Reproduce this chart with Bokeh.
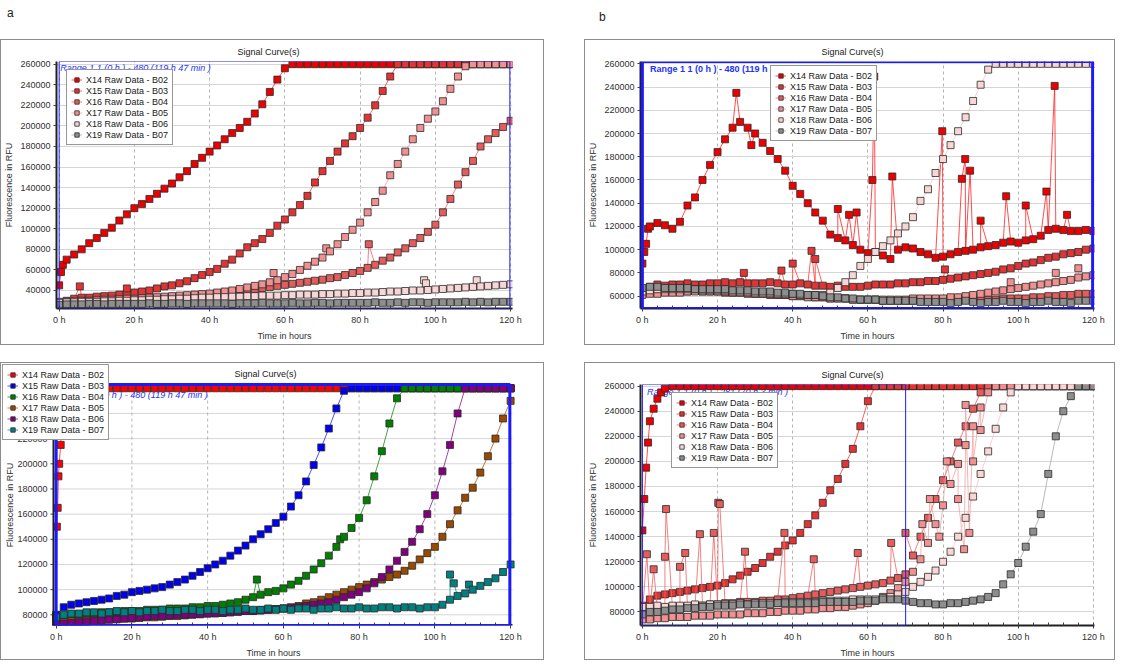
import math
from bokeh.plotting import figure
from bokeh.models import (FixedTicker, NumeralTickFormatter, Legend, LegendItem,
                          BoxAnnotation, Label, Div, Spacer)
from bokeh.core.properties import value
from bokeh.layouts import column, row
from bokeh.embed import file_html
from bokeh.resources import INLINE

# ---------------- data ----------------
T = list(range(0, 121, 2))          # sampling times in hours
NAMES = ["X14 Raw Data - B02", "X15 Raw Data - B03", "X16 Raw Data - B04",
         "X17 Raw Data - B05", "X18 Raw Data - B06", "X19 Raw Data - B07"]
X_TICKS = [0, 20, 40, 60, 80, 100, 120]
X_LABELS = ["0 h", "20 h", "40 h", "60 h", "80 h", "100 h", "120 h"]
SAT = 260000

# panel a, top
A_TOP_X14 = [45000, 70000, 75000, 80000, 86000, 91000, 96000, 101000, 108000, 114000,
             120000, 124000, 129000, 134000, 139000, 144000, 150000, 156000, 163000, 169000,
             175000, 181000, 187000, 193000, 198000, 204000, 212000, 221000, 233000, 245000,
             256000] + [SAT] * 30
A_TOP_X15 = [28000, 30000, 32000, 33000, 33000, 34000, 34500, 35000, 36000, 37000,
             38000, 39000, 40000, 42000, 44000, 45000, 47000, 49000, 52000, 55000,
             58000, 61000, 66000, 70000, 76000, 82000, 86000, 90000, 96000, 103000,
             109000, 116000, 123000, 132000, 145000, 156000, 166000, 175000, 183000, 190000,
             198000, 208000, 220000, 234000, 248000] + [SAT] * 16
A_TOP_X16 = [27000, 27500, 28000, 28000, 28500, 29000, 29000, 29500, 30000, 30000,
             30500, 31000, 31500, 32000, 32000, 33000, 33500, 34000, 34500, 35000,
             36000, 37000, 37500, 38500, 39500, 40000, 41500, 42500, 43500, 44500,
             45500, 46500, 47500, 48500, 49500, 50500, 52000, 53000, 55000, 57000,
             59000, 62000, 65000, 69000, 72000, 77000, 81000, 86000, 91000, 97000,
             104000, 116000, 129000, 143000, 155000, 166000, 180000, 187000, 193000, 199000,
             205000]
A_TOP_X17 = [29000, 29000, 29500, 30000, 30000, 30500, 31000, 31000, 31500, 32000,
             32000, 32500, 33000, 33500, 34000, 34500, 35000, 35500, 36000, 36500,
             37000, 38000, 39000, 40000, 41500, 43000, 44500, 46000, 48000, 50000,
             53000, 56000, 60000, 64000, 68000, 72000, 78000, 85000, 92000, 99000,
             106000, 116000, 126000, 137000, 152000, 163000, 175000, 187000, 198000, 207000,
             214000, 224000, 236000, 248000, 258000] + [SAT] * 6
A_TOP_X18 = [28000, 28500, 28500, 29000, 29000, 29000, 29500, 29500, 30000, 30000,
             30500, 30500, 31000, 31000, 31500, 31500, 32000, 32000, 32500, 33000,
             33000, 33500, 33500, 34000, 34000, 34500, 34500, 35000, 35000, 35000,
             35500, 35500, 36000, 36000, 36000, 36500, 36500, 37000, 37000, 37500,
             37500, 38000, 38000, 38500, 39000, 39000, 39500, 40000, 40000, 40500,
             41000, 41500, 42000, 42500, 43000, 43500, 44000, 44500, 45000, 45500,
             46000]
A_TOP_X19 = [26000, 26500, 26500, 26500, 27000, 27000, 26500, 27000, 27000, 27000,
             27000, 27000, 27500, 27000, 27000, 27500, 27500, 27000, 27500, 27500,
             27500, 27500, 27500, 27000, 27500, 27500, 27500, 28000, 27500, 27500,
             27500, 28000, 27500, 27500, 28000, 28000, 27500, 28000, 28000, 28000,
             28000, 28000, 28500, 28000, 28000, 28500, 28000, 28500, 28500, 28000,
             28500, 28500, 28500, 28500, 29000, 28500, 29000, 28500, 29000, 29000,
             29000]
A_TOP_EXTRA = {
    0: [(0.5, 58000), (1.0, 65000)],
    1: [(5.5, 44000), (18.0, 42000)],
    2: [(82.3, 85000)],
    3: [(57.0, 57000), (71.0, 81000)],
    4: [(97.0, 50000), (97.5, 47000), (111.0, 50000)],
    5: [],
}

# panel a, bottom
A_BOT_X14 = [78000] + [SAT] * 60
A_BOT_X15 = [80000, 86000, 88000, 89000, 90000, 91000, 92000, 93000, 95000, 96000,
             98000, 99000, 100000, 101000, 102000, 104000, 106000, 108000, 111000, 114000,
             117000, 120000, 123000, 127000, 131000, 135000, 140000, 144000, 148000, 153000,
             158000, 166000, 175000, 186000, 199000, 213000, 228000, 244000, 258000] + [SAT] * 22
A_BOT_X16 = [78000, 79000, 80000, 80000, 81000, 81000, 82000, 82000, 82000, 83000,
             83000, 83000, 84000, 84000, 84000, 85000, 85000, 85000, 86000, 86000,
             87000, 87000, 88000, 89000, 90000, 92000, 94000, 96000, 98000, 99000,
             101000, 104000, 107000, 111000, 116000, 121000, 127000, 134000, 142000, 149000,
             157000, 171000, 190000, 210000, 232000, 252000] + [SAT] * 15
A_BOT_X17 = [74000, 74500, 75000, 75000, 75500, 76000, 76000, 76500, 76500, 77000,
             77000, 77500, 78000, 78000, 78500, 79000, 79000, 79500, 80000, 80500,
             81000, 81000, 81500, 82000, 82500, 83000, 83000, 83500, 84000, 84500,
             85000, 86000, 87000, 89000, 90000, 92000, 94000, 96000, 98000, 100000,
             102000, 104000, 106000, 108000, 110000, 112000, 115000, 119000, 124000, 129000,
             134000, 142000, 152000, 163000, 173000, 181000, 193000, 206000, 220000, 236000,
             250000]
A_BOT_X18 = [72000, 73000, 73500, 74000, 74500, 75000, 75500, 76000, 76500, 77000,
             77500, 78000, 78500, 79000, 79000, 79500, 80000, 80000, 80500, 80500,
             81000, 81500, 81500, 82000, 82500, 83000, 83000, 83500, 84000, 84500,
             85000, 85500, 86000, 87000, 88000, 89000, 90000, 92000, 94000, 96000,
             98000, 101000, 105000, 110000, 116000, 123000, 130000, 138000, 148000, 160000,
             175000, 194000, 215000, 240000] + [SAT] * 7
A_BOT_X19 = [78000, 80000, 81000, 81000, 82000, 82000, 81000, 82000, 83000, 82000,
             83000, 82000, 83000, 83000, 84000, 83000, 83000, 84000, 84000, 83000,
             84000, 84000, 83000, 84000, 84000, 85000, 84000, 84000, 85000, 84000,
             85000, 84000, 85000, 85000, 84000, 85000, 85000, 86000, 85000, 85000,
             86000, 85000, 85000, 86000, 86000, 85000, 86000, 86000, 85000, 86000,
             86000, 88000, 92000, 95000, 97000, 100000, 103000, 106000, 109000, 114000,
             120000]
A_BOT_EXTRA = {
    0: [(0.2, 150000), (0.4, 165000), (0.6, 190000), (0.8, 200000), (1.2, 215000)],
    1: [],
    2: [(53.0, 108000), (75.0, 140000)],
    3: [],
    4: [],
    5: [(104.0, 112000), (105.0, 105000), (109.0, 104000)],
}

# panel b, top
B_TOP_X14 = [88000, 120000, 123000, 121000, 118000, 124000, 138000, 145000, 160000, 173000,
             184000, 195000, 205000, 210000, 205000, 200000, 192000, 185000, 178000, 168000,
             155000, 148000, 140000, 132000, 125000, 113000, 110000, 108000, 104000, 100000,
             97000, 98000, 95000, 92000, 100000, 102000, 101000, 98000, 96000, 93000,
             94000, 96000, 98000, 99000, 100000, 102000, 103000, 104000, 106000, 107000,
             106000, 108000, 109000, 112000, 117000, 118000, 117000, 116000, 116000, 117000,
             116000]
B_TOP_X15 = [66000, 68000, 70000, 69000, 70000, 70000, 71000, 70000, 70000, 71000,
             71000, 72000, 71000, 72000, 71000, 71000, 71000, 72000, 71000, 70000,
             70000, 71000, 70000, 69000, 69000, 68000, 69000, 68000, 68000, 68000,
             69000, 70000, 70000, 70000, 71000, 71000, 72000, 72000, 73000, 73000,
             74000, 75000, 76000, 77000, 78000, 79000, 80000, 81000, 83000, 84000,
             86000, 88000, 89000, 91000, 93000, 94000, 96000, 97000, 98000, 100000,
             101000]
B_TOP_X16 = [63000, 64000, 65000, 64000, 65000, 65000, 64000, 65000, 64000, 64000,
             64000, 63000, 63000, 63000, 62000, 62000, 62000, 61000, 61000, 61000,
             60000, 60000, 60000, 59000, 59000, 58000, 58000, 58000, 57000, 57000,
             57000, 57000, 56000, 56000, 56000, 56000, 56000, 56000, 56000, 56000,
             56000, 56000, 56000, 57000, 57000, 57000, 57000, 57000, 58000, 58000,
             58000, 58000, 59000, 59000, 60000, 60000, 61000, 61000, 62000, 62000,
             62000]
B_TOP_X17 = [61000, 62000, 62000, 63000, 63000, 63000, 64000, 64000, 64000, 64000,
             64000, 64000, 63000, 63000, 63000, 62000, 62000, 62000, 61000, 61000,
             60000, 60000, 59000, 59000, 59000, 58000, 58000, 58000, 57000, 57000,
             57000, 57000, 57000, 57000, 57000, 57000, 58000, 58000, 58000, 58000,
             58000, 59000, 59000, 60000, 61000, 62000, 63000, 64000, 65000, 66000,
             67000, 68000, 69000, 70000, 71000, 72000, 73000, 74000, 76000, 77000,
             78000]
B_TOP_X18 = [64000, 65000, 66000, 66000, 66000, 66000, 66000, 66000, 65000, 65000,
             65000, 65000, 64000, 64000, 64000, 63000, 63000, 63000, 62000, 62000,
             62000, 61000, 61000, 61000, 61000, 63000, 67000, 72000, 78000, 86000,
             92000, 98000, 103000, 108000, 114000, 120000, 128000, 142000, 152000, 166000,
             178000, 190000, 202000, 214000, 228000, 242000, 255000] + [SAT] * 14
B_TOP_X19 = [67000, 68000, 68000, 67000, 67000, 67000, 67000, 66000, 66000, 66000,
             66000, 66000, 65000, 65000, 65000, 64000, 64000, 64000, 63000, 63000,
             62000, 62000, 61000, 61000, 60000, 59000, 59000, 58000, 58000, 57000,
             57000, 57000, 56000, 56000, 56000, 56000, 56000, 55000, 55000, 55000,
             55000, 54000, 55000, 56000, 55000, 54000, 55000, 55000, 56000, 55000,
             55000, 54000, 55000, 55000, 56000, 55000, 55000, 54000, 56000, 56000,
             56000]
B_TOP_EXTRA = {
    0: [(0.5, 98000), (1.0, 105000), (1.5, 118000), (25.0, 235000), (29.0, 190000),
        (52.0, 135000), (55.0, 130000), (57.0, 132000), (61.2, 160000), (61.7, 249000),
        (66.5, 163000), (79.8, 202000), (85.0, 161000), (85.9, 178000), (87.2, 168000),
        (90.0, 125000), (96.8, 146000), (102.0, 138000), (107.5, 150000), (109.7, 241000),
        (113.0, 130000)],
    1: [(27.0, 80000), (37.0, 82000), (40.0, 88000), (45.0, 99000), (46.0, 92000),
        (80.5, 83000)],
    2: [],
    3: [(98.0, 72000), (110.0, 80000), (116.0, 84000)],
    4: [],
    5: [],
}

# panel b, bottom
B_BOT_X14 = [145000, 232000, 250000, 258000] + [SAT] * 57
B_BOT_X15 = [85000, 90000, 93000, 94000, 95000, 96000, 97000, 98000, 99000, 100000,
             101000, 103000, 106000, 109000, 112000, 115000, 119000, 124000, 128000, 133000,
             137000, 143000, 150000, 157000, 167000, 177000, 186000, 198000, 210000, 228000,
             248000] + [SAT] * 30
B_BOT_X16 = [80000, 82000, 82000, 83000, 83000, 84000, 84000, 85000, 85000, 86000,
             86000, 87000, 87000, 88000, 88000, 88000, 89000, 89000, 90000, 90000,
             91000, 92000, 93000, 94000, 95000, 96000, 97000, 98000, 99000, 100000,
             101000, 102000, 103000, 105000, 107000, 110000, 125000, 140000, 155000, 170000,
             185000, 200000, 215000, 228000, 242000, 255000] + [SAT] * 15
B_BOT_X17 = [74000, 74000, 75000, 75000, 76000, 76000, 76000, 77000, 77000, 77000,
             78000, 78000, 78000, 78000, 79000, 79000, 79000, 80000, 80000, 81000,
             81000, 81000, 82000, 82000, 83000, 83000, 84000, 84000, 85000, 86000,
             87000, 89000, 92000, 95000, 99000, 104000, 112000, 122000, 135000, 150000,
             165000, 182000, 198000, 213000, 228000, 243000, 255000] + [SAT] * 14
B_BOT_X18 = [84000, 84000, 85000, 84000, 85000, 85000, 85000, 86000, 85000, 86000,
             86000, 86000, 86000, 87000, 86000, 87000, 87000, 87000, 87000, 88000,
             88000, 88000, 88000, 88000, 89000, 89000, 89000, 89000, 90000, 90000,
             90000, 90000, 91000, 92000, 94000, 96000, 100000, 104000, 108000, 113000,
             120000, 128000, 140000, 155000, 172000, 190000, 208000, 226000, 243000, 255000] + [SAT] * 11
B_BOT_X19 = [78000, 80000, 80000, 81000, 82000, 82000, 83000, 83000, 84000, 84000,
             85000, 85000, 85000, 86000, 86000, 86000, 86000, 86000, 87000, 87000,
             87000, 87000, 87000, 87000, 88000, 88000, 88000, 88000, 88000, 89000,
             89000, 89000, 90000, 90000, 90000, 89000, 88000, 87000, 87000, 86000,
             86000, 87000, 87000, 88000, 89000, 90000, 92000, 95000, 102000, 110000,
             119000, 132000, 144000, 158000, 190000, 220000, 240000, 252000, 260000, 260000,
             260000]
B_BOT_EXTRA = {
    0: [(0.5, 170000), (1.0, 195000), (1.5, 215000), (3.0, 242000), (5.0, 255000)],
    1: [],
    2: [(1.2, 126000), (3.0, 114000), (6.0, 124000), (6.3, 162000), (10.0, 116000),
        (11.4, 127000), (15.3, 142000), (19.0, 143000), (20.2, 167000), (20.6, 166000),
        (27.3, 128000), (37.8, 143000), (45.6, 122000), (57.3, 127000), (66.2, 135000),
        (70.0, 143000)],
    3: [(74.5, 150000), (76.5, 170000), (79.0, 140000), (81.0, 200000), (84.0, 170000),
        (85.6, 130000), (86.0, 245000), (87.0, 143000), (88.0, 200000), (90.0, 225000)],
    4: [],
    5: [],
}

RED_FILL = ["#ee0000", "#e23434", "#e45c5c", "#f09090", "#f8d6d6", "#8e8e8e"]
RED_LINE = ["#ff2020", "#ff3a3a", "#f06060", "#f4a0a0", "#f6c4c4", "#a8a8a8"]
MIX_FILL = ["#ff0000", "#0000ee", "#008000", "#9a4a00", "#800080", "#008080"]
MIX_LINE = ["#ff2020", "#2020ff", "#109010", "#a85a10", "#901090", "#109090"]

FONT = "Liberation Sans"
RANGE_FULL = "Range 1 1 (0 h ) - 480 (119 h 47 min )"
RANGE_PART = "Range 1 1 (0 h ) - 281 (70 h 3 min )"
MSIZE = 7
BLUE = "#1a1aff"


def merged(vals, extras):
    assert len(vals) == len(T), len(vals)
    pts = sorted(list(zip(T, vals)) + list(extras), key=lambda p: p[0])
    return [p[0] for p in pts], [p[1] for p in pts]


def style_legend(leg):
    leg.label_text_font = FONT
    leg.label_text_font_size = "9px"
    leg.label_text_color = "#202020"
    leg.glyph_height = 11
    leg.glyph_width = 11
    leg.label_height = 11
    leg.label_standoff = 4
    leg.spacing = 0
    leg.padding = 4
    leg.margin = 0
    leg.border_line_color = "#303030"
    leg.border_line_width = 1
    leg.background_fill_alpha = 1


def draw_series(p, series, extras, fills, lines):
    items = []
    for i, vals in enumerate(series):
        xs, ys = merged(vals, extras[i])
        lr = p.line(xs, ys, line_color=lines[i], line_width=1, line_alpha=0.8)
        sr = p.scatter(xs, ys, marker="square", size=MSIZE, fill_color=fills[i],
                       line_color="#2a2a2a", line_width=0.8)
        items.append(LegendItem(label=NAMES[i], renderers=[lr, sr]))
    return items


def style_xaxis(p):
    p.xaxis.ticker = FixedTicker(ticks=X_TICKS, minor_ticks=list(range(0, 121, 4)))
    p.xaxis.major_label_overrides = {t: l for t, l in zip(X_TICKS, X_LABELS)}
    p.xaxis.axis_label = "Time in hours"


def style_axis(ax):
    ax.axis_line_width = 2
    ax.axis_line_color = "#202020"
    ax.major_label_text_font = FONT
    ax.major_label_text_font_size = "9px"
    ax.major_label_text_color = "#303030"
    ax.axis_label_text_font = FONT
    ax.axis_label_text_font_size = "9px"
    ax.axis_label_text_font_style = "normal"
    ax.axis_label_text_color = "#303030"
    ax.major_label_standoff = 3
    ax.axis_label_standoff = 3
    ax.major_tick_in = 0
    ax.major_tick_out = 3
    ax.major_tick_line_color = "#404040"


def panel(series, extras, fills, lines, width, xr, yr, yticks, mb_left, mb_right,
          height, mb_top, mb_bottom, legend_xy, rng_right, rng_w, rng_text,
          rng_y, rng_x, rng_bold, rng_under):
    p = figure(width=width, height=height, x_range=xr, y_range=yr,
               output_backend="svg", toolbar_location=None,
               min_border_left=mb_left, min_border_right=mb_right,
               min_border_top=mb_top, min_border_bottom=mb_bottom,
               title="Signal Curve(s)")
    p.frame_align = False
    p.styles = {"border": "1px solid #8c8c8c"}
    p.outline_line_color = None
    p.title.text_font = FONT
    p.title.text_font_size = "9px"
    p.title.text_font_style = "normal"
    p.title.text_color = "#202020"
    p.title.align = "left"
    p.title.offset = 181
    p.title.standoff = 9

    style_xaxis(p)
    p.yaxis.ticker = FixedTicker(ticks=yticks)
    p.yaxis.formatter = NumeralTickFormatter(format="0")
    p.yaxis.axis_label = "Fluorescence in RFU"
    for ax in (p.xaxis, p.yaxis):
        style_axis(ax)
    p.xaxis.minor_tick_in = 3
    p.xaxis.minor_tick_out = 0
    p.xaxis.minor_tick_line_color = "#404040"
    p.yaxis.minor_tick_line_color = None
    p.ygrid.grid_line_color = "#d6d6d6"
    p.xgrid.grid_line_color = "#b4b4b4"
    p.xgrid.grid_line_dash = "3 3"

    lbl = Label(x=rng_x, y=rng_y, text=rng_text, text_font=FONT, text_font_size="9px",
                text_color="#2233ff", text_baseline="middle",
                text_font_style="bold" if rng_bold else "italic")
    if rng_under:
        lbl.level = "underlay"
    p.add_layout(lbl)
    p.add_layout(BoxAnnotation(left=0, right=rng_right, fill_alpha=0, line_alpha=1,
                               line_color=BLUE, line_width=rng_w))

    items = draw_series(p, series, extras, fills, lines)
    leg = Legend(items=items, location=legend_xy)
    style_legend(leg)
    p.add_layout(leg)
    return p


def panel_open(series, extras, fills, lines, width, height, xr, yr, yticks,
               box, legend_xy):
    """Panel whose frame covers the whole canvas, so that the legend may sit
    over the axis area; axes and grid of the plot area are drawn as glyphs."""
    PL, PR, PT, PB = box            # plot area inside the canvas, px
    sx = (PR - PL) / (xr[1] - xr[0])
    sy = (PB - PT) / (yr[1] - yr[0])
    fx = (xr[0] - PL / sx, xr[1] + (width - PR) / sx)
    fy = (yr[0], yr[1] + PT / sy)
    p = figure(width=width, height=height, x_range=fx, y_range=fy,
               output_backend="svg", toolbar_location=None, y_axis_location=None,
               min_border_left=0, min_border_right=0, min_border_top=0,
               min_border_bottom=height - PB)
    p.frame_align = False
    p.title = None
    p.title_location = None
    p.styles = {"border": "1px solid #8c8c8c"}
    p.outline_line_color = None
    p.xgrid.visible = False
    p.ygrid.visible = False
    style_xaxis(p)
    style_axis(p.xaxis)
    p.xaxis.bounds = (xr[0], xr[1])
    p.xaxis.axis_line_color = None
    p.xaxis.minor_tick_in = 3
    p.xaxis.minor_tick_out = 0
    p.xaxis.minor_tick_line_color = "#404040"

    txt = dict(text_font=value(FONT), text_font_size="9px")
    # title
    p.text(x=[xr[0]], y=[yr[1]], text=["Signal Curve(s)"], x_offset=181, y_offset=-11,
           text_baseline="middle", text_color="#202020", **txt)
    # grid
    p.segment(x0=xr[0], y0=yticks, x1=xr[1], y1=yticks, line_color="#d6d6d6", line_width=1)
    p.segment(x0=X_TICKS[1:-1], y0=yr[0], x1=X_TICKS[1:-1], y1=yr[1],
              line_color="#b4b4b4", line_width=1, line_dash="3 3")
    # range text under the data
    p.text(x=[0.3], y=[255000], text=[RANGE_FULL], text_baseline="middle",
           text_color="#2233ff", text_font_style="italic", **txt)
    # y axis
    p.segment(x0=xr[0] - 3 / sx, y0=yticks, x1=xr[0], y1=yticks, line_color="#404040")
    p.text(x=xr[0], y=yticks, text=[str(v) for v in yticks], x_offset=-6,
           text_align="right", text_baseline="middle", text_color="#303030", **txt)
    p.text(x=[xr[0]], y=[(yr[0] + yr[1]) / 2], text=["Fluorescence in RFU"],
           angle=math.pi / 2, x_offset=-44, text_align="center", text_baseline="middle",
           text_color="#303030", **txt)

    items = draw_series(p, series, extras, fills, lines)

    p.segment(x0=[xr[0]], y0=[yr[0]], x1=[xr[0]], y1=[yr[1]], line_color="#202020",
              line_width=2)
    p.segment(x0=[xr[0]], y0=[yr[0]], x1=[xr[1]], y1=[yr[0]], line_color="#202020",
              line_width=3)
    p.add_layout(BoxAnnotation(left=0, right=119.8, bottom=yr[0], top=yr[1], fill_alpha=0,
                               line_alpha=1, line_color=BLUE, line_width=3))
    leg = Legend(items=items, location=legend_xy)
    style_legend(leg)
    p.add_layout(leg)
    return p


p1 = panel([A_TOP_X14, A_TOP_X15, A_TOP_X16, A_TOP_X17, A_TOP_X18, A_TOP_X19], A_TOP_EXTRA,
           RED_FILL, RED_LINE, 544, (-0.7, 120.5), (22500, 262600),
           list(range(40000, 260001, 20000)), 51, 33, 306, 21, 38, (10, 163),
           119.8, 1, RANGE_FULL, 255800, 0.3, False, False)
p2 = panel([B_TOP_X14, B_TOP_X15, B_TOP_X16, B_TOP_X17, B_TOP_X18, B_TOP_X19], B_TOP_EXTRA,
           RED_FILL, RED_LINE, 531, (-0.5, 120.3), (49350, 262000),
           list(range(60000, 260001, 20000)), 50, 22, 306, 21, 38, (130, 167),
           119.8, 3, RANGE_FULL, 255400, 2.0, True, False)
p3 = panel_open([A_BOT_X14, A_BOT_X15, A_BOT_X16, A_BOT_X17, A_BOT_X18, A_BOT_X19],
                A_BOT_EXTRA, MIX_FILL, MIX_LINE, 544, 298, (-0.7, 120.5), (71500, 263000),
                list(range(80000, 260001, 20000)), (52, 511, 21, 262), (1, 185))
p4 = panel([B_BOT_X14, B_BOT_X15, B_BOT_X16, B_BOT_X17, B_BOT_X18, B_BOT_X19], B_BOT_EXTRA,
           RED_FILL, RED_LINE, 531, (-0.5, 120.3), (69200, 261300),
           list(range(80000, 260001, 20000)), 50, 22, 298, 21, 36, (31, 157),
           70.05, 1, RANGE_PART, 255000, 1.2, False, True)

div_a = Div(text="a", width=584, height=29,
            styles={"font-size": "12px", "font-family": FONT, "color": "#202020",
                    "padding-left": "2px"})
div_b = Div(text="b", width=531, height=29,
            styles={"font-size": "12px", "font-family": FONT, "color": "#202020",
                    "padding-top": "4px"})

layout = column(row(div_a, div_b),
                row(p1, Spacer(width=40, height=306), p2),
                Spacer(width=1115, height=17),
                row(p3, Spacer(width=40, height=298), p4))

open("out.html", "w").write(file_html(layout, INLINE))
